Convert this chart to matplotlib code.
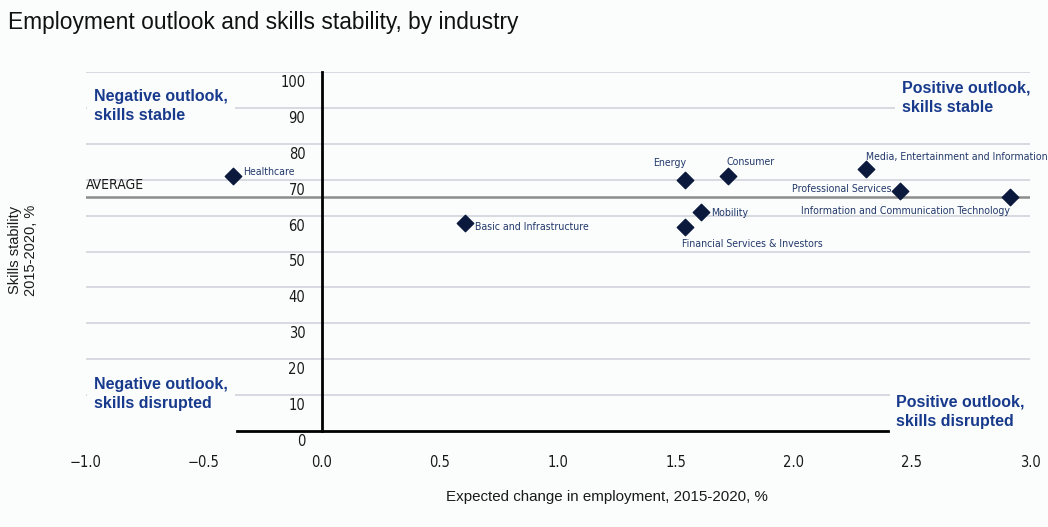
import matplotlib.pyplot as plt
from matplotlib.transforms import ScaledTranslation

# industries, expected change in employment (%), skills stability (%)
industries = ["Healthcare", "Basic and Infrastructure", "Energy", "Consumer",
              "Media, Entertainment and Information", "Professional Services",
              "Information and Communication Technology", "Mobility",
              "Financial Services & Investors"]
emp_change = [-0.375, 0.607, 1.539, 1.719, 2.306, 2.45, 2.914, 1.606, 1.539]
skills_stab = [71.1, 58.0, 69.9, 71.1, 73.0, 66.9, 65.1, 61.1, 56.9]
average = 65.3

x_ticks = [-1.0, -0.5, 0.0, 0.5, 1.0, 1.5, 2.0, 2.5, 3.0]
y_ticks = [0, 10, 20, 30, 40, 50, 60, 70, 80, 90, 100]

# label offsets in points (dx, dy, ha, va)
label_pos = [(7, 3, 'left', 'center'), (7, -3, 'left', 'center'),
             (1, 9, 'right', 'bottom'), (-1, 6, 'left', 'bottom'),
             (0, 5, 'left', 'bottom'), (-6, 1, 'right', 'center'),
             (0, -6, 'right', 'top'), (7, -1, 'left', 'center'),
             (-2, -9, 'left', 'top')]

bg = '#fbfdfd'
navy = '#0b1a3c'
lab_col = '#22386a'
quad_col = '#183a8c'
narrow = dict(family='DejaVu Sans', stretch='condensed')

plt.rcParams['font.family'] = ['Liberation Sans', 'DejaVu Sans']

fig = plt.figure(figsize=(10.48, 5.27), dpi=100, facecolor=bg)
ax = fig.add_axes([86/1048, 1-431/527, 944/1048, 359/527], facecolor=bg)

ax.set_xlim(-1.0, 3.0)
ax.set_ylim(0, 100)

# gridlines
for y in y_ticks[1:]:
    ax.axhline(y, color='#d2d3dc', lw=1.2, zorder=0)
ax.axhline(average, color='#8c8c8c', lw=1.8, zorder=1)
ax.text(-1.0, average + 1.2, 'AVERAGE', fontsize=10,
        color='#1a1a1a', ha='left', va='bottom', **narrow)

# axes lines
for s in ['top', 'right']:
    ax.spines[s].set_visible(False)
ax.spines['left'].set_position(('data', 0))
ax.spines['left'].set_linewidth(2)
ax.spines['left'].set_color('black')
ax.spines['bottom'].set_linewidth(2)
ax.spines['bottom'].set_color('black')
ax.spines['bottom'].set_bounds(-0.36, 2.40)

ax.set_xticks(x_ticks)
ax.set_xticklabels([f'{v:.1f}'.replace('-', '\u2212') for v in x_ticks])
ax.set_yticks(y_ticks)
ax.tick_params(axis='both', length=0, labelsize=10.5, labelcolor='#1a1a1a')
ax.tick_params(axis='x', pad=17)
ax.tick_params(axis='y', pad=12)
for lbl in ax.get_xticklabels() + ax.get_yticklabels():
    lbl.set_family(narrow['family'])
    lbl.set_stretch(narrow['stretch'])
for lbl in ax.get_yticklabels():
    lbl.set_transform(lbl.get_transform() + ScaledTranslation(0, -0.09, fig.dpi_scale_trans))

# points
ax.scatter(emp_change, skills_stab, marker='D', s=70, color=navy, zorder=5)
for name, x, y, (dx, dy, ha, va) in zip(industries, emp_change, skills_stab, label_pos):
    ax.annotate(name, (x, y), xytext=(dx, dy), textcoords='offset points',
                ha=ha, va=va, fontsize=7.6, color=lab_col, zorder=6, **narrow)

# quadrant labels
box = dict(facecolor=bg, edgecolor='none', pad=5)
qkw = dict(fontsize=11.5, fontweight='bold', color=quad_col, va='center',
           ha='left', linespacing=1.35, zorder=4, bbox=box)
ax.text(-0.965, 90.5, 'Negative outlook,\nskills stable', **qkw)
ax.text(2.459, 92.8, 'Positive outlook,\nskills stable', **qkw)
ax.text(-0.965, 10.3, 'Negative outlook,\nskills disrupted', **qkw)
ax.text(2.434, 5.3, 'Positive outlook,\nskills disrupted', **qkw)

# titles
fig.text(8/1048, 1-22/527, 'Employment outlook and skills stability, by industry',
         fontsize=16.4, color='#111111', ha='left', va='center')
fig.text(607/1048, 1-497/527, 'Expected change in employment, 2015-2020, %',
         fontsize=10.9, color='#1a1a1a', ha='center', va='center')
fig.text(23/1048, 1-250/527, 'Skills stability\n2015-2020, %', rotation=90,
         fontsize=10.5, color='#1a1a1a', ha='center', va='center',
         multialignment='center')

fig.savefig('out.png', dpi=100, facecolor=bg)
